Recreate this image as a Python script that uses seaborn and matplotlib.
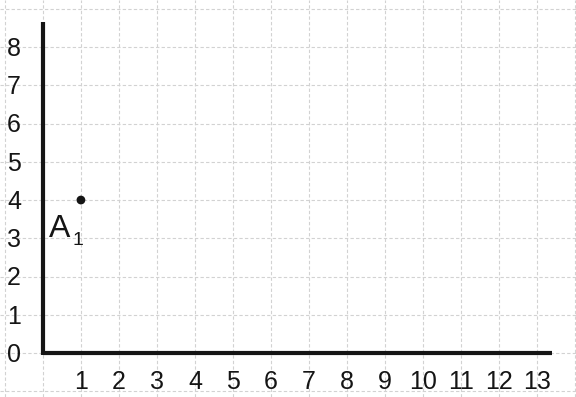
import matplotlib
matplotlib.use("Agg")
import matplotlib.pyplot as plt
import numpy as np
import pandas as pd
import seaborn as sns

# dados
x_labels = list(range(1, 14))
y_labels = list(range(0, 9))
point_names = ["A"]
point_subs = ["1"]
point_x = [1]
point_y = [4]

sns.set_style("white")
plt.rcParams["font.family"] = ["Liberation Sans Narrow", "Liberation Sans", "DejaVu Sans"]

fig = plt.figure(figsize=(5.76, 3.97), dpi=100)
ax = fig.add_axes([0, 0, 1, 1])

ax.set_xlim(-1.13, 14.03)
ax.set_ylim(-1.15, 9.23)

# grade tracejada de fundo
for gx in range(-1, 15):
    ax.axvline(gx, color="#d2d2d2", lw=0.8, ls=(0, (3, 2)), zorder=0)
for gy in range(-1, 10):
    ax.axhline(gy, color="#d2d2d2", lw=0.8, ls=(0, (3, 2)), zorder=0)

# eixos
ax.vlines(0, -0.05, 8.65, color="#151515", lw=3, zorder=2)
ax.hlines(0, 0, 13.4, color="#151515", lw=3, zorder=2)

# ponto
df = pd.DataFrame({"x": point_x, "y": point_y, "name": point_names, "sub": point_subs})
sns.scatterplot(data=df, x="x", y="y", ax=ax, color="#151515", s=40,
                edgecolor="none", zorder=3, legend=False)
for _, r in df.iterrows():
    ax.text(r["x"] - 0.84, r["y"] - 0.97, r["name"], fontsize=23,
            color="#151515", ha="left", va="baseline")
    ax.text(r["x"] - 0.22, r["y"] - 1.18, r["sub"], fontsize=14,
            color="#151515", ha="left", va="baseline")

# rótulos dos eixos
for v in x_labels:
    ax.text(v, -0.76, str(v), fontsize=18, color="#151515", ha="center", va="center")
for v in y_labels:
    ax.text(-0.76, v - 0.05, str(v), fontsize=18, color="#151515", ha="center", va="center")

ax.set_xticks([])
ax.set_yticks([])
ax.set_xlabel("")
ax.set_ylabel("")
for s in ax.spines.values():
    s.set_visible(False)

fig.savefig("out.png", dpi=100)
